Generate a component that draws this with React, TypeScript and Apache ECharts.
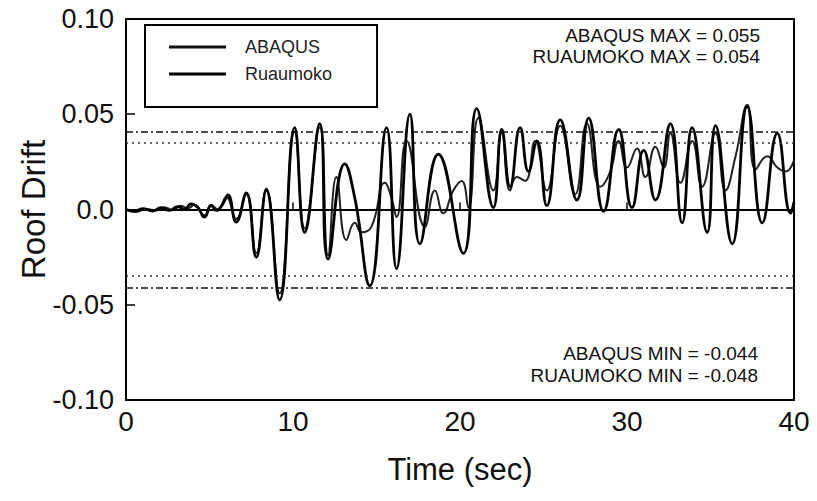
import React, { useEffect, useRef } from "react";
import * as echarts from "echarts";

const xTicks = [0, 10, 20, 30, 40];
const yTicks = [-0.1, -0.05, 0, 0.05, 0.1];

const ruaumokoTime = [0, 0.5, 1.0, 1.6, 2.1, 2.6, 3.1, 3.5, 3.9, 4.3, 4.7, 5.1, 5.4, 5.8, 6.1, 6.6, 7.2, 7.8, 8.4, 9.2, 10.1, 10.7, 11.6, 12.1, 13.1, 13.7, 14.6, 15.6, 16.2, 17.0, 17.6, 18.7, 20.2, 21.0, 22.0, 22.5, 23.0, 23.6, 24.1, 24.6, 25.2, 26.0, 27.0, 27.7, 28.6, 29.5, 30.3, 31.0, 31.7, 32.6, 33.3, 33.9, 34.8, 35.3, 36.3, 37.2, 38.1, 39.0, 39.8, 40.0];
const ruaumokoDrift = [0, -0.001, 0.0005, -0.0008, 0.001, -0.0005, 0.0015, 0.0, 0.003, 0.001, -0.004, 0.002, -0.0005, 0.003, 0.0076, -0.0066, 0.0087, -0.025, 0.010, -0.0475, 0.043, -0.012, 0.045, -0.026, 0.024, 0.006, -0.040, 0.043, -0.031, 0.050, -0.018, 0.029, -0.023, 0.053, 0.001, 0.042, 0.012, 0.043, 0.020, 0.036, 0.002, 0.047, 0.005, 0.048, -0.001, 0.042, 0.001, 0.031, 0.005, 0.045, -0.007, 0.043, -0.012, 0.044, -0.018, 0.054, -0.007, 0.040, -0.002, 0.004];

const abaqusTime = [0, 0.6, 1.2, 1.8, 2.3, 2.8, 3.3, 3.7, 4.1, 4.7, 5.1, 5.5, 6.0, 6.6, 7.2, 7.8, 8.4, 9.2, 10.1, 10.7, 11.6, 12.1, 12.6, 13.2, 13.7, 14.1, 14.7, 15.5, 15.9, 16.2, 16.8, 17.9, 18.5, 19.0, 19.6, 20.1, 20.5, 21.1, 22.0, 22.5, 23.0, 23.4, 23.9, 24.5, 25.2, 26.0, 26.9, 27.6, 28.4, 29.0, 29.5, 30.0, 30.6, 31.1, 31.7, 32.2, 32.6, 33.2, 33.9, 34.5, 35.3, 35.9, 36.5, 37.2, 37.7, 38.4, 39.0, 39.5, 40.0];
const abaqusDrift = [0, -0.0012, 0.0003, -0.0005, 0.0012, -0.0003, 0.002, 0.0005, 0.0025, -0.003, 0.0025, 0.0, 0.0065, -0.005, 0.008, -0.023, 0.011, -0.044, 0.041, -0.010, 0.043, -0.024, 0.017, -0.016, -0.007, -0.012, -0.009, 0.014, 0.006, -0.004, 0.036, -0.009, 0.010, -0.002, 0.010, 0.015, 0.001, 0.048, 0.010, 0.040, 0.010, 0.017, 0.015, 0.036, 0.010, 0.044, 0.008, 0.045, 0.012, 0.020, 0.036, 0.022, 0.032, 0.017, 0.033, 0.022, 0.040, 0.014, 0.036, 0.012, 0.040, 0.010, 0.028, 0.055, 0.021, 0.028, 0.022, 0.020, 0.026];

const dashDotLevels = [0.041, -0.041];
const dottedLevels = [0.035, -0.035];

const maxLabels = ["ABAQUS MAX = 0.055", "RUAUMOKO MAX = 0.054"];
const minLabels = ["ABAQUS MIN = -0.044", "RUAUMOKO MIN = -0.048"];

const SANS = "'Liberation Sans', Arial, sans-serif";

export default function App() {
  const ref = useRef<HTMLDivElement>(null);
  useEffect(() => {
    if (!ref.current) return;
    const chart = echarts.init(ref.current, null, { renderer: "svg" });
    const abaqus = abaqusTime.map((t, i) => [t, abaqusDrift[i]]);
    const ruaumoko = ruaumokoTime.map((t, i) => [t, ruaumokoDrift[i]]);
    const markA: any[] = [
      { name: "zero", yAxis: 0, lineStyle: { type: "solid", width: 2, color: "#000" } },
      ...dashDotLevels.map((v, i) => ({ name: "dd" + i, yAxis: v, lineStyle: { type: [7, 3, 2, 3], width: 1.5, color: "#111" } })),
      ...dottedLevels.map((v, i) => ({ name: "dt" + i, yAxis: v, lineStyle: { type: [2, 4], width: 1.5, color: "#333" } })),
    ];
    const textStyle = (text: string, x: number, y: number) => ({
      type: "text",
      x,
      y,
      silent: true,
      style: { text, align: "right", verticalAlign: "middle", fontSize: 19, lineHeight: 19, fontFamily: SANS, fill: "#111" },
    });
    chart.setOption({
      animation: false,
      backgroundColor: "#fff",
      grid: { left: 126, right: 23, top: 19, bottom: 101, show: true, borderColor: "#000", borderWidth: 2, backgroundColor: "transparent" },
      legend: {
        orient: "vertical",
        left: 145,
        top: 25,
        padding: [13, 45, 24, 24],
        itemGap: 9,
        itemWidth: 57,
        itemHeight: 3,
        icon: "rect",
        borderColor: "#000",
        borderWidth: 2,
        textStyle: { fontSize: 18, fontFamily: SANS, color: "#222", padding: [0, 0, 0, 14] },
        data: ["ABAQUS", "Ruaumoko"],
      },
      xAxis: {
        type: "value",
        min: xTicks[0],
        max: xTicks[xTicks.length - 1],
        interval: 10,
        name: "Time (sec)",
        nameLocation: "middle",
        nameGap: 54,
        nameTextStyle: { fontSize: 31, fontFamily: SANS, color: "#111" },
        axisLine: { show: false },
        axisTick: { show: true, inside: true, length: 7, lineStyle: { color: "#000", width: 1.5 } },
        axisLabel: { fontSize: 28, fontFamily: SANS, color: "#111", margin: 7 },
        splitLine: { show: false },
      },
      yAxis: {
        type: "value",
        min: yTicks[0],
        max: yTicks[yTicks.length - 1],
        interval: 0.05,
        name: "Roof Drift",
        nameLocation: "middle",
        nameMoveOverlap: false,
        nameGap: 76,
        nameTextStyle: { fontSize: 33, fontFamily: SANS, color: "#111" },
        axisLine: { show: false },
        axisTick: { show: true, inside: true, length: 9, lineStyle: { color: "#000", width: 1.5 } },
        axisLabel: {
          fontSize: 27,
          fontFamily: SANS,
          color: "#111",
          margin: 12,
          formatter: (v: number) => (Math.abs(v) < 1e-9 ? "0.0" : v.toFixed(2)),
        },
        splitLine: { show: false },
      },
      series: [
        {
          name: "ABAQUS",
          type: "line",
          data: abaqus,
          smooth: 0.5,
          symbol: "none",
          lineStyle: { color: "#222", width: 2 },
          itemStyle: { color: "#111" },
          markLine: { silent: true, symbol: "none", label: { show: false }, precision: 3, data: markA },
        },
        {
          name: "Ruaumoko",
          type: "line",
          data: ruaumoko,
          smooth: 0.5,
          symbol: "none",
          lineStyle: { color: "#000", width: 2.8 },
          itemStyle: { color: "#000" },
        },
      ],
      graphic: [
        textStyle(maxLabels[0], 760, 35),
        textStyle(maxLabels[1], 760, 56),
        textStyle(minLabels[0], 758, 353),
        textStyle(minLabels[1], 758, 375),
      ],
    });
    return () => chart.dispose();
  }, []);
  return <div ref={ref} style={{ position: "fixed", left: 0, top: 0, width: 817, height: 501 }} />;
}
